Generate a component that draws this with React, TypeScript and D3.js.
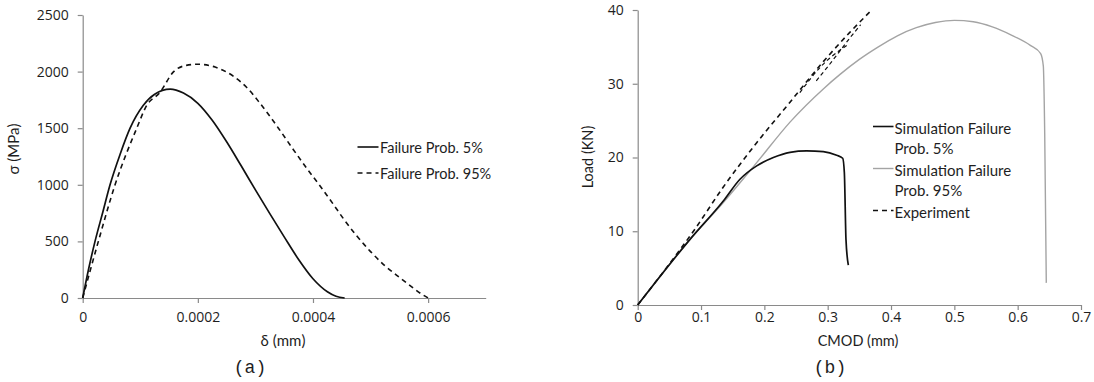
import * as d3 from 'd3';
import * as React from 'react';
import { useEffect, useRef } from 'react';

// (a) stress vs. opening
const deltaP5 = [0, 0.00001, 0.0000214, 0.000035, 0.0000475, 0.000065, 0.0000823, 0.000105, 0.000125, 0.000152, 0.000175, 0.0002, 0.000225, 0.00025, 0.000275, 0.0003, 0.000325, 0.00035, 0.000375, 0.0004, 0.000425, 0.00044, 0.000455];
const sigmaP5 = [0, 250, 500, 760, 1000, 1270, 1500, 1700, 1800, 1845, 1810, 1720, 1570, 1380, 1170, 955, 745, 540, 340, 170, 55, 15, 0];

const deltaP95 = [0, 0.0000272, 0.0000562, 0.0000939, 0.000111, 0.000134, 0.000158, 0.00018, 0.0002, 0.00023, 0.000262, 0.000285, 0.000308, 0.00034, 0.000366, 0.00039, 0.000413, 0.000435, 0.000453, 0.000475, 0.0005, 0.000525, 0.000552, 0.000575, 0.00059, 0.0006];
const sigmaP95 = [0, 500, 1000, 1500, 1700, 1815, 2000, 2055, 2065, 2040, 1958, 1860, 1720, 1500, 1310, 1140, 985, 830, 700, 555, 410, 285, 175, 85, 30, 0];

const xTicksA = [0, 0.0002, 0.0004, 0.0006];
const xLabelsA = ['0', '0.0002', '0.0004', '0.0006'];
const yTicksA = [0, 500, 1000, 1500, 2000, 2500];
const legendA = ['Failure Prob. 5%', 'Failure Prob. 95%'];

// (b) load vs. CMOD
const cmodP5 = [0, 0.0826, 0.1352, 0.1615, 0.1879, 0.2142, 0.2405, 0.2668, 0.2931, 0.3142, 0.3237, 0.3263, 0.3289, 0.3326];
const loadP5 = [0, 8.9, 14.1, 17.05, 18.86, 20.0, 20.7, 20.9, 20.8, 20.3, 19.9, 17.96, 8.86, 5.4];

const cmodP95 = [0, 0.0826, 0.1352, 0.1879, 0.2405, 0.2931, 0.32, 0.35, 0.38, 0.41, 0.44, 0.47, 0.5, 0.53, 0.56, 0.59, 0.62, 0.6363, 0.6405, 0.6427, 0.6452];
const loadP95 = [0, 8.9, 13.9, 19.3, 24.8, 29.3, 31.3, 33.3, 35.0, 36.5, 37.6, 38.3, 38.6, 38.4, 37.7, 36.6, 35.2, 34.1, 32.4, 23.3, 3.0];

const cmodExp = [0, 0.045, 0.088, 0.1352, 0.1879, 0.2405, 0.2931, 0.3353, 0.3695];
const loadExp = [0, 5.0, 10.0, 16.0, 22.0, 27.5, 33.0, 37.0, 40.0];
const cmodExpCycle1 = [0.256, 0.29, 0.33];
const loadExpCycle1 = [28.8, 32.4, 35.2];
const cmodExpCycle2 = [0.282, 0.3, 0.318, 0.335, 0.352];
const loadExpCycle2 = [30.4, 32.3, 34.3, 36.2, 38.0];

const xTicksB = [0, 0.1, 0.2, 0.3, 0.4, 0.5, 0.6, 0.7];
const yTicksB = [0, 10, 20, 30, 40];
const legendB = [['Simulation Failure', 'Prob. 5%'], ['Simulation Failure', 'Prob. 95%'], ['Experiment']];

const FONT = 'Lato, "Open Sans", sans-serif';
const NUM_FONT = '"Open Sans", sans-serif';
const AXIS = '#8a8a8a';
const TEXT = '#1e1e1e';
const GREY = '#a4a4a4';

const zip = (a: number[], b: number[]) => a.map((v, i) => [v, b[i]] as [number, number]);

const styleAxis = (g: any) => {
  g.select('.domain').attr('stroke', AXIS).attr('stroke-width', 1.2);
  g.selectAll('.tick line').attr('stroke', AXIS).attr('stroke-width', 1.2);
  g.selectAll('.tick text').attr('fill', TEXT).style('font-family', NUM_FONT).style('font-size', '14px');
};

export default function App() {
  const ref = useRef<SVGSVGElement | null>(null);

  useEffect(() => {
    if (!ref.current) return;
    const svg = d3.select(ref.current);
    svg.selectAll('*').remove();

    // ---------- panel (a)
    const xa = d3.scaleLinear().domain([0, 0.0007]).range([82.7, 485.7]);
    const ya = d3.scaleLinear().domain([0, 2500]).range([298, 15]);

    svg.append('g')
      .attr('transform', 'translate(0,' + ya(0) + ')')
      .call(d3.axisBottom(xa).tickValues(xTicksA).tickFormat((_d: any, i: number) => xLabelsA[i]).tickSize(5).tickSizeOuter(0).tickPadding(9))
      .call(styleAxis);
    svg.append('g')
      .attr('transform', 'translate(' + xa(0) + ',0)')
      .call(d3.axisLeft(ya).tickValues(yTicksA).tickFormat(d3.format('d')).tickSize(5).tickSizeOuter(0).tickPadding(9))
      .call(styleAxis);

    const lineA = d3.line<[number, number]>().x(d => xa(d[0])).y(d => ya(d[1])).curve(d3.curveMonotoneX);

    svg.append('path').attr('d', lineA(zip(deltaP95, sigmaP95)))
      .attr('fill', 'none').attr('stroke', '#111').attr('stroke-width', 1.6).attr('stroke-dasharray', '5,4');
    svg.append('path').attr('d', lineA(zip(deltaP5, sigmaP5)))
      .attr('fill', 'none').attr('stroke', '#111').attr('stroke-width', 1.7);

    svg.append('text').attr('transform', 'translate(13,149) rotate(-90)')
      .attr('text-anchor', 'middle').attr('dominant-baseline', 'central')
      .style('font-family', FONT).style('font-size', '15px').attr('fill', TEXT).text('σ (MPa)');
    svg.append('text').attr('x', 283).attr('y', 340)
      .attr('text-anchor', 'middle').attr('dominant-baseline', 'central')
      .style('font-family', FONT).style('font-size', '15px').attr('fill', TEXT).text('δ (mm)');
    svg.append('text').attr('x', 250).attr('y', 368)
      .attr('text-anchor', 'middle').attr('dominant-baseline', 'central')
      .style('font-family', '"Liberation Mono", monospace').style('font-size', '18px').attr('fill', TEXT).text('(a)');

    legendA.forEach((label, i) => {
      const ly = 147 + i * 26;
      svg.append('line').attr('x1', 357.5).attr('x2', 378.5).attr('y1', ly).attr('y2', ly)
        .attr('stroke', '#111').attr('stroke-width', 1.6).attr('stroke-dasharray', i === 0 ? null : '5,4');
      svg.append('text').attr('x', 380).attr('y', ly).attr('dominant-baseline', 'central')
        .style('font-family', FONT).style('font-size', '14.5px').attr('fill', TEXT).text(label);
    });

    // ---------- panel (b)
    const xb = d3.scaleLinear().domain([0, 0.7]).range([637.7, 1081]);
    const yb = d3.scaleLinear().domain([0, 40]).range([305, 10]);

    svg.append('g')
      .attr('transform', 'translate(0,' + yb(0) + ')')
      .call(d3.axisBottom(xb).tickValues(xTicksB).tickFormat((d: any) => (d === 0 ? '0' : d3.format('.1f')(d))).tickSize(5).tickSizeOuter(0).tickPadding(2))
      .call(styleAxis);
    svg.append('g')
      .attr('transform', 'translate(' + xb(0) + ',0)')
      .call(d3.axisLeft(yb).tickValues(yTicksB).tickFormat(d3.format('d')).tickSize(5).tickSizeOuter(0).tickPadding(9))
      .call(styleAxis);

    const lineB = d3.line<[number, number]>().x(d => xb(d[0])).y(d => yb(d[1])).curve(d3.curveMonotoneX);

    svg.append('path').attr('d', lineB(zip(cmodP95, loadP95)))
      .attr('fill', 'none').attr('stroke', GREY).attr('stroke-width', 1.4);
    [zip(cmodExp, loadExp), zip(cmodExpCycle1, loadExpCycle1), zip(cmodExpCycle2, loadExpCycle2)].forEach((pts, i) => {
      svg.append('path').attr('d', lineB(pts))
        .attr('fill', 'none').attr('stroke', '#111').attr('stroke-width', i === 0 ? 1.6 : 1.2)
        .attr('stroke-dasharray', i === 0 ? '5,4' : '4,3');
    });
    svg.append('path').attr('d', lineB(zip(cmodP5, loadP5)))
      .attr('fill', 'none').attr('stroke', '#111').attr('stroke-width', 1.7);

    svg.append('text').attr('transform', 'translate(587,157) rotate(-90)')
      .attr('text-anchor', 'middle').attr('dominant-baseline', 'central')
      .style('font-family', FONT).style('font-size', '14.5px').attr('fill', TEXT).text('Load (KN)');
    svg.append('text').attr('x', 858).attr('y', 340)
      .attr('text-anchor', 'middle').attr('dominant-baseline', 'central')
      .style('font-family', FONT).style('font-size', '14.5px').attr('fill', TEXT).text('CMOD (mm)');
    svg.append('text').attr('x', 830).attr('y', 368)
      .attr('text-anchor', 'middle').attr('dominant-baseline', 'central')
      .style('font-family', '"Liberation Mono", monospace').style('font-size', '18px').attr('fill', TEXT).text('(b)');

    const legendRows = [126.5, 168.5, 210.5];
    const legendStroke = ['#111', GREY, '#111'];
    legendB.forEach((lines, i) => {
      const ly = legendRows[i];
      svg.append('line').attr('x1', 873).attr('x2', 893.5).attr('y1', ly).attr('y2', ly)
        .attr('stroke', legendStroke[i]).attr('stroke-width', i === 1 ? 1.4 : 1.6)
        .attr('stroke-dasharray', i === 2 ? '5,4' : null);
      lines.forEach((t, j) => {
        svg.append('text').attr('x', 894.5).attr('y', ly + 1 + j * 20.5).attr('dominant-baseline', 'central')
          .style('font-family', FONT).style('font-size', '15px').attr('fill', TEXT).text(t);
      });
    });
  }, []);

  return (
    <div style={{ position: 'absolute', left: 0, top: 0 }}>
      <svg ref={ref} width={1094} height={382} style={{ display: 'block', background: '#fff' }} />
    </div>
  );
}
